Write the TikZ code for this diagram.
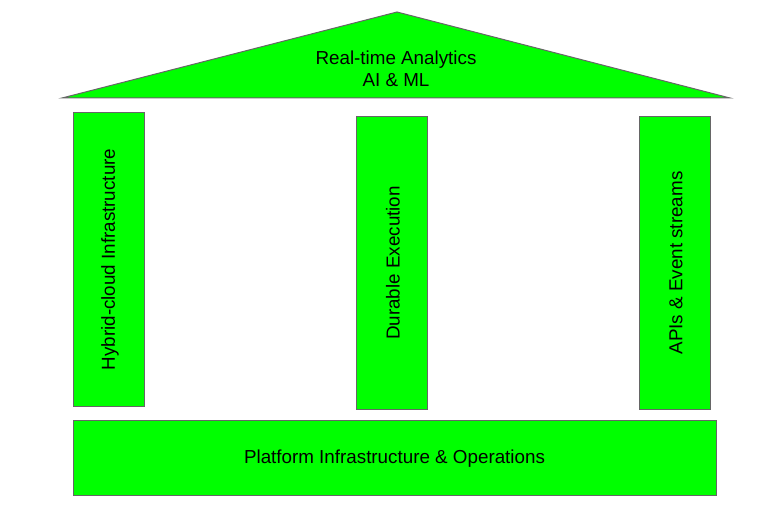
\documentclass[tikz,border=0pt]{standalone}
\usepackage{fontspec}
\setmainfont{Liberation Sans}
\begin{document}
\begin{tikzpicture}[x=1pt,y=-1pt,
  part/.style={draw=black!60,fill=green!100,line width=1pt,line join=miter},
  lbl/.style={font=\fontsize{18.8}{22}\selectfont,text=black,align=center,inner sep=0pt}]
\useasboundingbox (0,0) rectangle (782,513);
\coordinate (rl) at (62,98);
\coordinate (rr) at (730,98);
\coordinate (ra) at (397,12);
\draw[part] (rl) -- (ra) -- (rr) -- cycle;
\node[lbl] (roof) at (396,69) {Real-time Analytics\\AI \& ML};
\draw[part] (73,113) rectangle (144,406);
\draw[part] (356,117) rectangle (427,409);
\draw[part] (639,117) rectangle (710,409);
\draw[part] (73,420) rectangle (716,495);
\node[lbl,rotate=90] (p1) at (110,259.5) {Hybrid-cloud Infrastructure};
\node[lbl,rotate=90] (p2) at (393,263) {Durable Execution};
\node[lbl,rotate=90] (p3) at (676,263) {APIs \& Event streams};
\node[lbl] (base) at (394.5,459) {Platform Infrastructure \& Operations};
\end{tikzpicture}
\end{document}
